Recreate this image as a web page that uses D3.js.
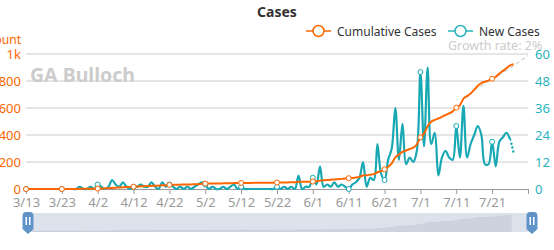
<!DOCTYPE html>
<html>
<head>
<meta charset="utf-8">
<script src="https://cdn.jsdelivr.net/npm/d3@7"></script>
<style>
  body { margin: 0; background: #fff; }
  svg { display: block; font-family: "Noto Sans", sans-serif; }
</style>
</head>
<body>
<div id="chart"></div>
<script>
// categories run 3/13 .. 7/31, labels every 10 days
const firstDay = new Date(2020, 2, 13);
const lastDay = new Date(2020, 7, 1);
const tickLabels = ["3/13", "3/23", "4/2", "4/12", "4/22", "5/2", "5/12", "5/22", "6/1", "6/11", "6/21", "7/1", "7/11", "7/21"];

// new cases per day (right axis)
const newCases = [
  0, 0, 0, 0, 0, 0, 0, 0, 0, 0, 0, 0, 0, 0, 0,
  1, 0, 0, 1, 0,
  2, 1, 0, 1, 4, 2, 1, 3, 1, 0,
  1, 1, 2, 1, 1, 3, 1, 0, 3, 1,
  2, 1, 0, 1, 0, 1, 0, 1, 2, 3,
  2, 0, 1, 0, 0, 1, 0, 1, 2, 0,
  1, 0, 0, 0, 0, 0, 0, 0, 0, 0,
  1, 0, 1, 0, 1, 0, 6, 0, 1, 1,
  5, 2, 10, 1, 2, 1, 3, 1, 2, 1,
  0, 2, 3, 5, 12, 1, 5, 4, 20, 7,
  4, 13, 18, 36, 13, 29, 11, 14, 12, 17,
  52, 19, 54, 20, 25, 6, 14, 17, 14, 13,
  28, 14, 37, 14, 20, 24, 28, 24, 11, 11,
  21, 10, 21, 23, 25, 22, 16
];

// cumulative cases (left axis)
const cumulative = [
  0, 0, 0, 0, 0, 0, 0, 0, 0, 0, 0, 0, 0, 0, 0,
  1, 1, 1, 2, 2,
  3, 4, 4, 5, 8, 10, 11, 13, 14, 15,
  17, 18, 20, 21, 22, 24, 25, 25, 27, 28,
  30, 31, 31, 32, 33, 34, 34, 35, 36, 38,
  40, 40, 41, 41, 41, 42, 42, 43, 44, 44,
  45, 45, 45, 45, 46, 46, 46, 46, 47, 47,
  48, 48, 49, 49, 50, 50, 53, 53, 54, 54,
  55, 57, 62, 64, 66, 68, 71, 73, 75, 77,
  80, 82, 85, 90, 100, 102, 106, 110, 124, 132,
  146, 165, 190, 235, 255, 275, 285, 296, 306, 330,
  383, 410, 465, 498, 512, 522, 535, 548, 560, 575,
  603, 620, 670, 688, 708, 735, 765, 785, 795, 805,
  817, 830, 855, 875, 895, 915, 924
];

// growth rate projection, starts at day index 125
const forecastStart = 125;
const forecast = [735, 750, 765, 780, 796, 812, 828, 844, 861, 879, 896, 914, 932, 951, 970, 989];

const leftTicks = [0, 200, 400, 600, 800, 1000];
const rightTicks = [0, 12, 24, 36, 48, 60];

const orange = "#ff6600";
const teal = "#17a8b4";

const W = 554, H = 250;
const plot = { left: 26, right: 528, top: 54, bottom: 189 };

const fmt = d3.timeFormat("%-m/%-d");
const dates = d3.timeDay.range(firstDay, lastDay).map(fmt);

const svg = d3.select("#chart").append("svg").attr("width", W).attr("height", H);

const x = d3.scalePoint().domain(dates).range([plot.left, plot.right]);
const yL = d3.scaleLinear().domain([0, 1000]).range([plot.bottom, plot.top]);
const yR = d3.scaleLinear().domain([0, 60]).range([plot.bottom, plot.top]);

// grid lines
svg.append("g")
  .selectAll("line")
  .data(leftTicks.slice(1))
  .join("line")
  .attr("x1", plot.left).attr("x2", plot.right)
  .attr("y1", d => yL(d)).attr("y2", d => yL(d))
  .attr("stroke", "#cccccc");

// left axis labels
const leftAxis = svg.append("g")
  .attr("transform", "translate(" + plot.left + ",0)")
  .call(d3.axisLeft(yL).tickValues(leftTicks).tickSize(0).tickPadding(5)
    .tickFormat(d => d === 1000 ? "1k" : d));
leftAxis.select(".domain").remove();
leftAxis.selectAll("text").attr("fill", orange).style("font-size", "13px").style("font-family", "Noto Sans");

// right axis labels
const rightAxis = svg.append("g")
  .attr("transform", "translate(" + plot.right + ",0)")
  .call(d3.axisRight(yR).tickValues(rightTicks).tickSize(0).tickPadding(7));
rightAxis.select(".domain").remove();
rightAxis.selectAll("text").attr("fill", "#2ab3bd").style("font-size", "13px").style("font-family", "Noto Sans");

// axis name, cut off at the left edge
svg.append("text")
  .attr("x", 21).attr("y", 44)
  .attr("text-anchor", "end")
  .attr("fill", orange)
  .style("font-size", "12px")
  .text("Count");

// x axis
const xTicks = dates.filter((d, i) => i % 10 === 0).concat([dates[dates.length - 1]]);
const xAxis = svg.append("g")
  .attr("transform", "translate(0," + plot.bottom + ")")
  .call(d3.axisBottom(x).tickValues(xTicks).tickSizeOuter(0).tickSize(5).tickPadding(4)
    .tickFormat(d => tickLabels.includes(d) ? d : ""));
xAxis.select(".domain").attr("stroke", "#999");
xAxis.selectAll("line").attr("stroke", "#999");
xAxis.selectAll("text").attr("fill", "#999").style("font-size", "13px").style("font-family", "Noto Sans");

// watermark label
svg.append("text")
  .attr("x", 30).attr("y", 82)
  .attr("fill", "#cccccc")
  .style("font-size", "19.5px")
  .style("font-weight", "bold")
  .text("GA Bulloch");

// projection (dashed grey)
const forecastLine = d3.line()
  .x((d, i) => x(dates[forecastStart + i]))
  .y(d => yL(d));
svg.append("path")
  .datum(forecast)
  .attr("d", forecastLine)
  .attr("fill", "none")
  .attr("stroke", "#cfcfcf")
  .attr("stroke-width", 1.2)
  .attr("stroke-dasharray", "4,3");

// new cases line
const newLine = d3.line()
  .curve(d3.curveCatmullRom.alpha(0.5))
  .x(d => x(dates[d.i]))
  .y(d => yR(d.v));
const newPts = newCases.map((v, i) => ({ i: i, v: v }));
svg.append("path")
  .datum(newPts.slice(0, newPts.length - 1))
  .attr("d", newLine)
  .attr("fill", "none")
  .attr("stroke", teal)
  .attr("stroke-width", 2.2);
// last day still incomplete, dotted
svg.append("clipPath").attr("id", "lastClip")
  .append("rect")
  .attr("x", x(dates[newCases.length - 2])).attr("y", 0)
  .attr("width", 20).attr("height", H);
svg.append("path")
  .datum(newPts.slice(newPts.length - 3))
  .attr("d", newLine)
  .attr("fill", "none")
  .attr("stroke", teal)
  .attr("stroke-width", 2.5)
  .attr("stroke-linecap", "round")
  .attr("stroke-dasharray", "0,4")
  .attr("clip-path", "url(#lastClip)");

// cumulative line
const cumLine = d3.line()
  .curve(d3.curveMonotoneX)
  .x((d, i) => x(dates[i]))
  .y(d => yL(d));
svg.append("path")
  .datum(cumulative)
  .attr("d", cumLine)
  .attr("fill", "none")
  .attr("stroke", orange)
  .attr("stroke-width", 2);

// symbols every 10 days
const marks = d3.range(0, newCases.length, 10);
svg.append("g").selectAll("circle")
  .data(marks)
  .join("circle")
  .attr("cx", i => x(dates[i]))
  .attr("cy", i => yR(newCases[i]))
  .attr("r", 2.5)
  .attr("fill", "#fff")
  .attr("stroke", teal)
  .attr("stroke-width", 1);
svg.append("g").selectAll("circle")
  .data(marks)
  .join("circle")
  .attr("cx", i => x(dates[i]))
  .attr("cy", i => yL(cumulative[i]))
  .attr("r", 2.5)
  .attr("fill", "#fff")
  .attr("stroke", orange)
  .attr("stroke-width", 1);

// title
svg.append("text")
  .attr("x", 277).attr("y", 17)
  .attr("text-anchor", "middle")
  .attr("fill", "#333")
  .style("font-size", "14px")
  .style("font-weight", "bold")
  .text("Cases");

// legend
const legend = [
  { name: "Cumulative Cases", color: orange, x: 306 },
  { name: "New Cases", color: "#2ab3bd", x: 448 }
];
legend.forEach(l => {
  svg.append("line")
    .attr("x1", l.x).attr("x2", l.x + 25)
    .attr("y1", 31).attr("y2", 31)
    .attr("stroke", l.color).attr("stroke-width", 1.5);
  svg.append("circle")
    .attr("cx", l.x + 12.5).attr("cy", 31).attr("r", 5.5)
    .attr("fill", "#fff").attr("stroke", l.color).attr("stroke-width", 1.5);
  svg.append("text")
    .attr("x", l.x + 31).attr("y", 35.5)
    .attr("fill", "#333")
    .style("font-size", "12px")
    .text(l.name);
});

svg.append("text")
  .attr("x", 448).attr("y", 50)
  .attr("fill", "#cccccc")
  .style("font-size", "12.5px")
  .text("Growth rate: 2%");

// data zoom slider
const slider = { left: 28, right: 532, top: 213, bottom: 232 };
svg.append("rect")
  .attr("x", slider.left).attr("y", slider.top)
  .attr("width", slider.right - slider.left).attr("height", slider.bottom - slider.top)
  .attr("fill", "#dce2eb");
const sx = d3.scaleLinear().domain([0, dates.length - 1]).range([slider.left, slider.right - 6]);
const sy = d3.scaleLinear().domain([0, 1000]).range([slider.bottom - 1, slider.top + 1]);
svg.append("path")
  .datum(cumulative)
  .attr("d", d3.area().x((d, i) => sx(i)).y0(slider.bottom).y1(d => sy(d)))
  .attr("fill", "#cdd3de");
svg.append("path")
  .datum(cumulative)
  .attr("d", d3.line().x((d, i) => sx(i)).y(d => sy(d)))
  .attr("fill", "none")
  .attr("stroke", "#c2c9d5")
  .attr("stroke-width", 0.6);

[slider.left, slider.right].forEach(cx => {
  const g = svg.append("g").attr("transform", "translate(" + cx + ",0)");
  g.append("path")
    .attr("d", "M-5.5,216 Q-5.5,212 -2,212 L2,212 Q5.5,212 5.5,216 L5.5,229 L0,234 L-5.5,229 Z")
    .attr("fill", "#5f93c8");
  g.append("rect").attr("x", -2.5).attr("y", 217).attr("width", 1.5).attr("height", 8).attr("fill", "#fff");
  g.append("rect").attr("x", 1).attr("y", 217).attr("width", 1.5).attr("height", 8).attr("fill", "#fff");
});
</script>
</body>
</html>
